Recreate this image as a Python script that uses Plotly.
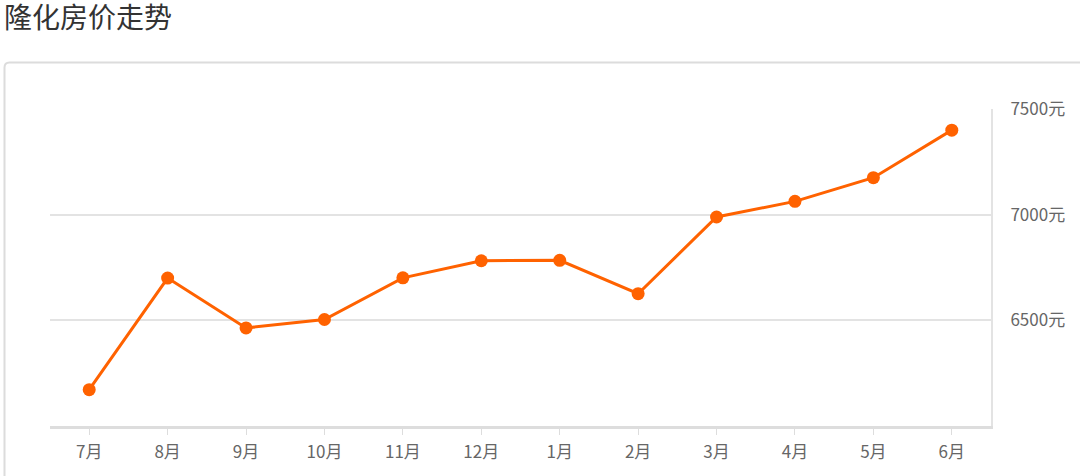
import plotly.graph_objects as go

months = ["7月", "8月", "9月", "10月", "11月", "12月", "1月", "2月", "3月", "4月", "5月", "6月"]
prices = [6172, 6700, 6464, 6504, 6701, 6782, 6784, 6626, 6989, 7063, 7175, 7400]
y_ticks = [6500, 7000, 7500]
y_tick_labels = ["6500元", "7000元", "7500元"]
title_text = "隆化房价走势"

W, H = 1080, 476
L, R, T, B = 50, 89, 109, 50
pw, ph = W - L - R, H - T - B

def px(x):
    return (x - L) / pw

def py(y):
    return (H - B - y) / ph

font_family = "Noto Sans CJK SC, Noto Sans, sans-serif"

fig = go.Figure()
fig.add_trace(go.Scatter(
    x=months, y=prices, mode="lines+markers",
    line=dict(color="#FF6200", width=3),
    marker=dict(color="#FF6200", size=13),
    hoverinfo="x+y", showlegend=False,
))

# card border with rounded top-left corner
r = 5
x0, y0 = 4.5, 62.5
x1, y1 = 1100, 500
path = (f"M {px(x0)},{py(y1)} L {px(x0)},{py(y0 + r)} "
        f"Q {px(x0)},{py(y0)} {px(x0 + r)},{py(y0)} "
        f"L {px(x1)},{py(y0)}")
fig.add_shape(type="path", path=path, xref="paper", yref="paper",
              line=dict(color="#dcdcdc", width=2), layer="below")

fig.update_layout(
    width=W, height=H,
    margin=dict(l=L, r=R, t=T, b=B, pad=0),
    paper_bgcolor="white", plot_bgcolor="white",
    font=dict(family=font_family, color="#666666", size=15),
    title=dict(text=title_text, x=4 / W, xanchor="left", xref="container",
               y=1 - 18 / H, yanchor="middle", yref="container",
               font=dict(family=font_family, size=28, color="#333333")),
    xaxis=dict(
        type="category", range=[-0.5, len(months) - 0.5],
        showgrid=False, zeroline=False,
        showline=True, linecolor="#dddddd", linewidth=3,
        ticks="outside", ticklen=6, tickcolor="#dddddd", tickwidth=1,
        tickfont=dict(size=17, color="#666666"),
        ticklabelstandoff=3,
        fixedrange=True,
    ),
    yaxis=dict(
        side="right", range=[6000, 7500],
        tickvals=y_ticks, ticktext=y_tick_labels,
        showgrid=True, gridcolor="#e3e3e3", gridwidth=2,
        zeroline=False,
        showline=True, linecolor="#e3e3e3", linewidth=2,
        ticks="", tickfont=dict(size=17, color="#666666"),
        ticklabelstandoff=14,
        fixedrange=True,
    ),
)

fig.write_html(
    "out.html",
    config=dict(displayModeBar=False),
    post_script="document.body.style.margin='0';document.body.style.overflow='hidden';",
)
